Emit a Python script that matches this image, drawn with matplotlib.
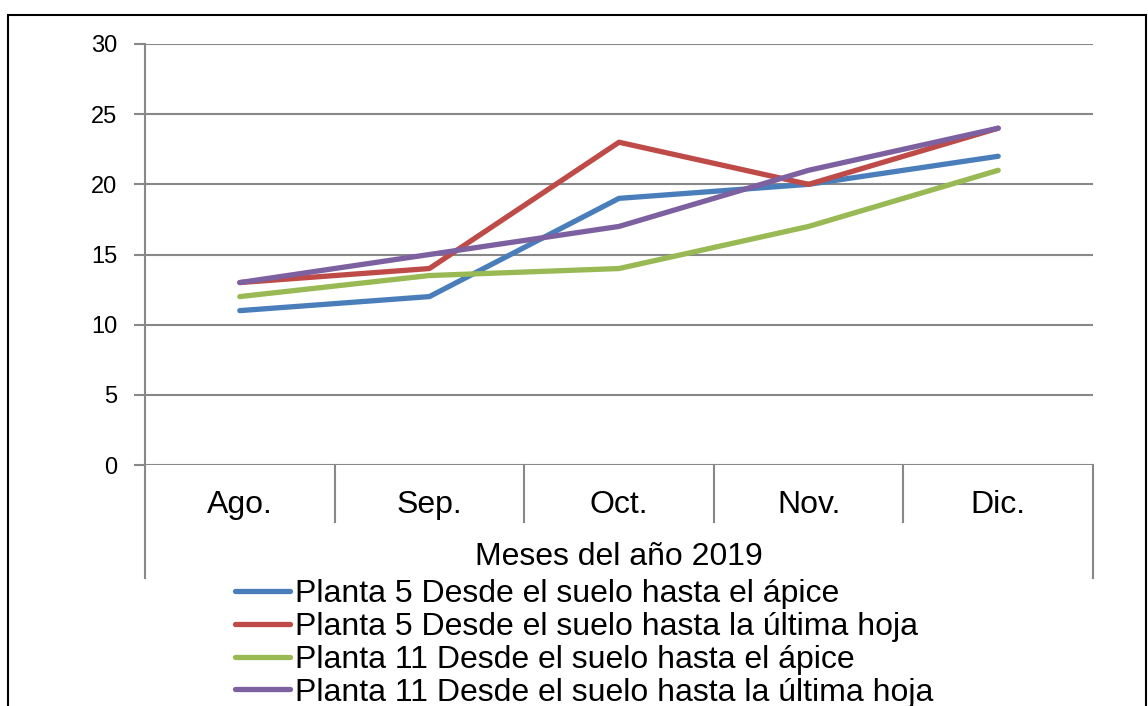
import matplotlib.pyplot as plt
from matplotlib.patches import Rectangle

meses = ["Ago.", "Sep.", "Oct.", "Nov.", "Dic."]
p5_apice = [11, 12, 19, 20, 22]
p5_hoja = [13, 14, 23, 20, 24]
p11_apice = [12, 13.5, 14, 17, 21]
p11_hoja = [13, 15, 17, 21, 24]
etiquetas = ["Planta 5 Desde el suelo hasta el ápice",
             "Planta 5 Desde el suelo hasta la última hoja",
             "Planta 11 Desde el suelo hasta el ápice",
             "Planta 11 Desde el suelo hasta la última hoja"]
colores = ["#4a7ebb", "#be4b48", "#98b954", "#7d60a0"]

plt.rcParams['font.family'] = ['Liberation Sans', 'DejaVu Sans']

W, H = 1148, 706
fig = plt.figure(figsize=(W/100, H/100), dpi=100)
ax = fig.add_axes([145/W, (H-465)/H, (1093-145)/W, (465-44)/H])

x = list(range(len(meses)))
for serie, lab, c in zip([p5_apice, p5_hoja, p11_apice, p11_hoja], etiquetas, colores):
    ax.plot(x, serie, color=c, lw=3.8, label=lab, solid_capstyle='round', zorder=3)

ax.set_xlim(-0.5, len(meses) - 0.5)
ax.set_ylim(0, 30)
ax.set_yticks(range(0, 31, 5))
ax.yaxis.grid(True, color='#888888', lw=1.5)
ax.set_axisbelow(True)
for s in ['top', 'right', 'bottom']:
    ax.spines[s].set_visible(False)
ax.spines['left'].set_color('#888888')
ax.spines['left'].set_linewidth(1.5)
ax.tick_params(axis='y', length=8, width=1.5, color='#888888', labelsize=17, pad=12)
ax.tick_params(axis='x', length=0)
ax.set_xticks([])

# category table below the axis
tr = ax.get_xaxis_transform()
h_in = -(522-465)/(465-44)
h_out = -(578-465)/(465-44)
for i in range(len(meses) + 1):
    xe = i - 0.5
    bottom = h_out if i in (0, len(meses)) else h_in
    ax.plot([xe, xe], [0, bottom], color='#888888', lw=1.5, transform=tr, clip_on=False)
for i, m in enumerate(meses):
    ax.text(i, -(505-465)/(465-44), m, transform=tr, ha='center', va='center', fontsize=23)
ax.text(2, -(557-465)/(465-44), "Meses del año 2019", transform=tr, ha='center',
        va='center', fontsize=23)

leg = fig.legend(loc='upper left', bbox_to_anchor=(235/W, 1 - 579/H), frameon=False,
                 fontsize=23, handlelength=1.72, handletextpad=0.15, labelspacing=0.09,
                 borderpad=0, borderaxespad=0)

fig.patches.append(Rectangle((8/W, -0.1), (1146-8)/W, 1 - 15/H + 0.1,
                             transform=fig.transFigure, fill=False, ec='black', lw=1.5))

fig.savefig("out.png", dpi=100)
